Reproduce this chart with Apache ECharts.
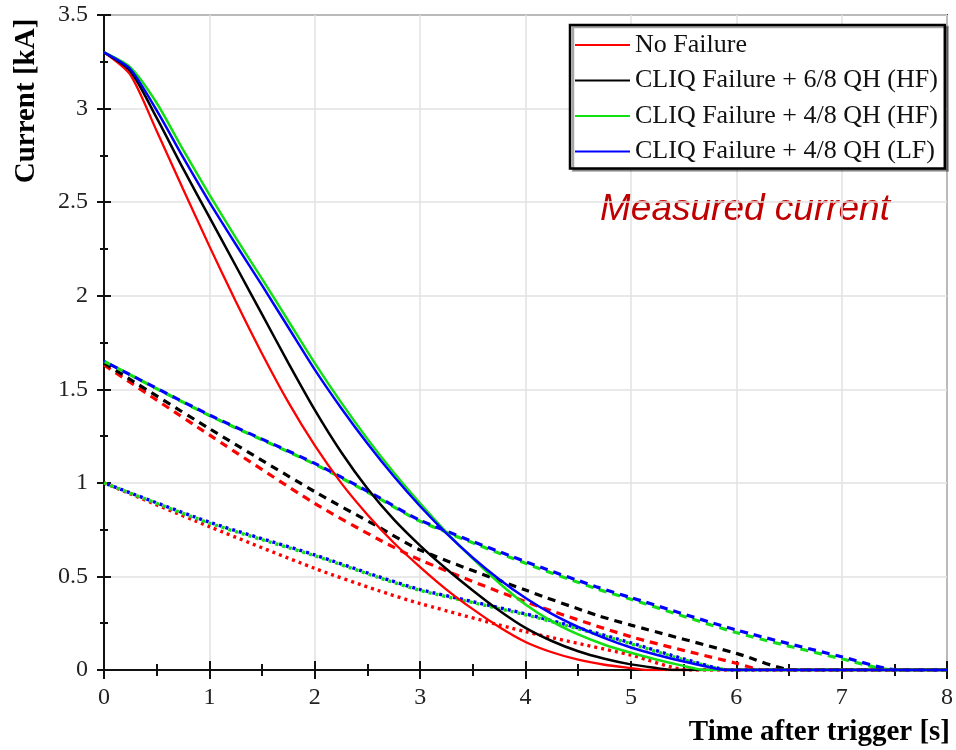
<!DOCTYPE html>
<html>
<head>
<meta charset="utf-8">
<script src="https://cdn.jsdelivr.net/npm/echarts@6/dist/echarts.min.js"></script>
<style>
  html, body { margin: 0; padding: 0; background: #fff; }
  #main { width: 956px; height: 750px; }
</style>
</head>
<body>
<div id="main"></div>
<script>
// legend names
const names = [
  "No Failure",
  "CLIQ Failure + 6/8 QH (HF)",
  "CLIQ Failure + 4/8 QH (HF)",
  "CLIQ Failure + 4/8 QH (LF)",
];
const colors = ["#ff0000", "#000000", "#12e012", "#0000ff"];

// measured current (solid), [time s, current kA]
const redSolid = [[0,3.30],[0.25,3.18],[0.5,2.88],[0.75,2.57],[1.0,2.265],[1.25,1.97],[1.5,1.69],[1.75,1.43],[2.0,1.20],[2.25,1.00],[2.5,0.83],[2.75,0.68],[3.0,0.55],[3.25,0.43],[3.5,0.325],[3.75,0.23],[4.0,0.15],[4.25,0.095],[4.5,0.055],[4.75,0.028],[5.0,0.01],[5.15,0],[6,0],[8,0]];
const blackSolid = [[0,3.30],[0.25,3.20],[0.5,2.95],[0.75,2.68],[1.0,2.42],[1.25,2.16],[1.5,1.90],[1.75,1.64],[2.0,1.39],[2.25,1.165],[2.5,0.97],[2.75,0.805],[3.0,0.665],[3.25,0.54],[3.5,0.425],[3.75,0.318],[4.0,0.225],[4.25,0.155],[4.5,0.10],[4.75,0.06],[5.0,0.03],[5.25,0.01],[5.4,0],[6,0],[8,0]];
const greenSolid = [[0,3.30],[0.25,3.22],[0.5,3.03],[0.75,2.78],[1.0,2.54],[1.25,2.31],[1.5,2.09],[1.75,1.865],[2.0,1.64],[2.25,1.43],[2.5,1.235],[2.75,1.055],[3.0,0.89],[3.25,0.735],[3.5,0.595],[3.75,0.465],[4.0,0.35],[4.25,0.26],[4.5,0.19],[4.75,0.135],[5.0,0.092],[5.25,0.055],[5.5,0.022],[5.7,0],[6.5,0],[8,0]];
const blueSolid = [[0,3.30],[0.25,3.21],[0.5,2.99],[0.75,2.74],[1.0,2.50],[1.25,2.275],[1.5,2.055],[1.75,1.83],[2.0,1.605],[2.25,1.40],[2.5,1.21],[2.75,1.035],[3.0,0.875],[3.25,0.73],[3.5,0.60],[3.75,0.485],[4.0,0.385],[4.25,0.30],[4.5,0.23],[4.75,0.17],[5.0,0.12],[5.25,0.08],[5.5,0.045],[5.75,0.015],[5.9,0],[6.5,0],[8,0]];

// dashed curves
const redDash = [[0,1.63],[1.0,1.256],[2.0,0.89],[2.6,0.70],[3.0,0.588],[4.0,0.365],[5.0,0.178],[6.0,0.036],[6.27,0],[8,0]];
const blackDash = [[0,1.64],[1.0,1.29],[2.0,0.953],[2.6,0.766],[3.0,0.641],[4.0,0.427],[4.67,0.294],[5.0,0.24],[6.0,0.089],[6.55,0],[8,0]];
const greenDash = [[0,1.65],[1.0,1.36],[2.0,1.10],[2.6,0.92],[3.0,0.795],[4.0,0.57],[4.67,0.435],[5.0,0.378],[6.0,0.20],[7.0,0.06],[7.5,0],[8,0]];
const blueDash = [[0,1.65],[1.0,1.363],[2.0,1.104],[2.6,0.925],[3.0,0.80],[4.0,0.579],[4.67,0.445],[5.0,0.387],[6.0,0.214],[7.0,0.071],[7.55,0],[8,0]];

// dotted curves
const redDot = [[0,1.0],[1.0,0.766],[2.0,0.543],[2.6,0.425],[3.0,0.355],[4.0,0.205],[5.0,0.08],[5.55,0],[8,0]];
const greenDot = [[0,1.0],[1.0,0.785],[2.0,0.61],[2.6,0.495],[3.0,0.425],[3.5,0.36],[4.0,0.295],[4.5,0.22],[5.0,0.14],[5.5,0.055],[5.95,0],[8,0]];
const blueDot = [[0,1.0],[1.0,0.79],[2.0,0.615],[2.6,0.50],[3.0,0.43],[3.5,0.365],[4.0,0.30],[4.5,0.225],[5.0,0.145],[5.5,0.06],[5.95,0],[8,0]];

const serif = "Liberation Serif";

function line(name, data, color, width, type, offset) {
  return {
    name: name,
    type: "line",
    data: data,
    smooth: 0.25,
    showSymbol: false,
    color: color,
    lineStyle: { color: color, width: width, type: type, dashOffset: offset || 0 },
    z: type === "solid" ? 5 : 3,
  };
}

let myChart = echarts.init(document.getElementById("main"));

const axisX = {
  type: "value",
  min: 0,
  max: 8,
  interval: 1,
  position: "bottom",
  axisLine: { show: true, onZero: false, lineStyle: { color: "#111", width: 2 } },
};
const axisY = {
  type: "value",
  min: 0,
  max: 3.5,
  interval: 0.5,
  position: "left",
  axisLine: { show: true, onZero: false, lineStyle: { color: "#111", width: 2 } },
};

var option = {
  animation: false,
  backgroundColor: "#fff",
  grid: {
    left: 104,
    right: 2,
    top: 15,
    bottom: 80,
    show: true,
    borderColor: "#444",
    borderWidth: 2,
  },
  xAxis: [
    Object.assign({}, axisX, {
      axisTick: { show: true, inside: false, length: 9, lineStyle: { color: "#111", width: 2 } },
      minorTick: { show: true, splitNumber: 2, length: 6, lineStyle: { color: "#111", width: 2 } },
      axisLabel: { margin: 16, fontFamily: serif, fontSize: 24, color: "#222" },
      splitLine: { show: true, lineStyle: { color: "#e2e2e2", width: 1.5 } },
    }),
    Object.assign({}, axisX, {
      axisTick: { show: true, inside: true, length: 9, lineStyle: { color: "#111", width: 2 } },
      minorTick: { show: true, splitNumber: 2, length: 6, lineStyle: { color: "#111", width: 2 } },
      axisLabel: { show: false },
      splitLine: { show: false },
    }),
  ],
  yAxis: [
    Object.assign({}, axisY, {
      axisTick: { show: true, inside: false, length: 7, lineStyle: { color: "#111", width: 2 } },
      minorTick: { show: true, splitNumber: 2, length: 4, lineStyle: { color: "#111", width: 2 } },
      axisLabel: { margin: 16, fontFamily: serif, fontSize: 24, color: "#222" },
      splitLine: { show: true, lineStyle: { color: "#e2e2e2", width: 1.5 } },
    }),
    Object.assign({}, axisY, {
      axisTick: { show: true, inside: true, length: 7, lineStyle: { color: "#111", width: 2 } },
      minorTick: { show: true, splitNumber: 2, length: 4, lineStyle: { color: "#111", width: 2 } },
      axisLabel: { show: false },
      splitLine: { show: false },
    }),
  ],
  legend: {
    data: names,
    orient: "vertical",
    left: 570,
    top: 25,
    padding: [7, 7, 4, 5],
    itemGap: 9.5,
    itemWidth: 55,
    itemHeight: 2,
    icon: "rect",
    backgroundColor: "#fff",
    borderColor: "#000",
    borderWidth: 2.5,
    shadowColor: "rgba(0,0,0,0.35)",
    shadowOffsetX: 3,
    shadowOffsetY: 2,
    shadowBlur: 0,
    textStyle: { fontFamily: serif, fontSize: 26, lineHeight: 26, color: "#111" },
  },
  graphic: [
    {
      type: "text",
      x: 27,
      y: 101,
      rotation: Math.PI / 2,
      style: {
        text: "Current [kA]",
        font: "bold 29px " + serif,
        fill: "#000",
        align: "center",
        verticalAlign: "middle",
        textAlign: "center",
        textVerticalAlign: "middle",
      },
    },
    {
      type: "text",
      x: 950,
      y: 733,
      style: {
        text: "Time after trigger [s]",
        font: "bold 29px " + serif,
        fill: "#000",
        align: "right",
        verticalAlign: "middle",
        textAlign: "right",
        textVerticalAlign: "middle",
      },
    },
    {
      type: "text",
      x: 600,
      y: 210,
      style: {
        text: "Measured current",
        font: "italic 37px Liberation Sans",
        fill: "#c00000",
        align: "left",
        verticalAlign: "middle",
        textAlign: "left",
        textVerticalAlign: "middle",
      },
    },
  ],
  series: [
    line("redDot", redDot, colors[0], 3.4, [3, 4]),
    line("greenDot", greenDot, colors[2], 3.4, [3, 4]),
    line("blueDot", blueDot, colors[3], 3.4, [3, 4], 3.5),
    line("redDash", redDash, colors[0], 3.2, [8, 6]),
    line("blackDash", blackDash, colors[1], 3.2, [8, 6]),
    line("greenDash", greenDash, colors[2], 3.2, [8, 6]),
    line("blueDash", blueDash, colors[3], 3.2, [8, 6], 7),
    line(names[0], redSolid, colors[0], 2.3, "solid"),
    line(names[1], blackSolid, colors[1], 2.5, "solid"),
    line(names[2], greenSolid, colors[2], 2.5, "solid"),
    line(names[3], blueSolid, colors[3], 2.5, "solid"),
  ],
};

myChart.setOption(option);
</script>
</body>
</html>
